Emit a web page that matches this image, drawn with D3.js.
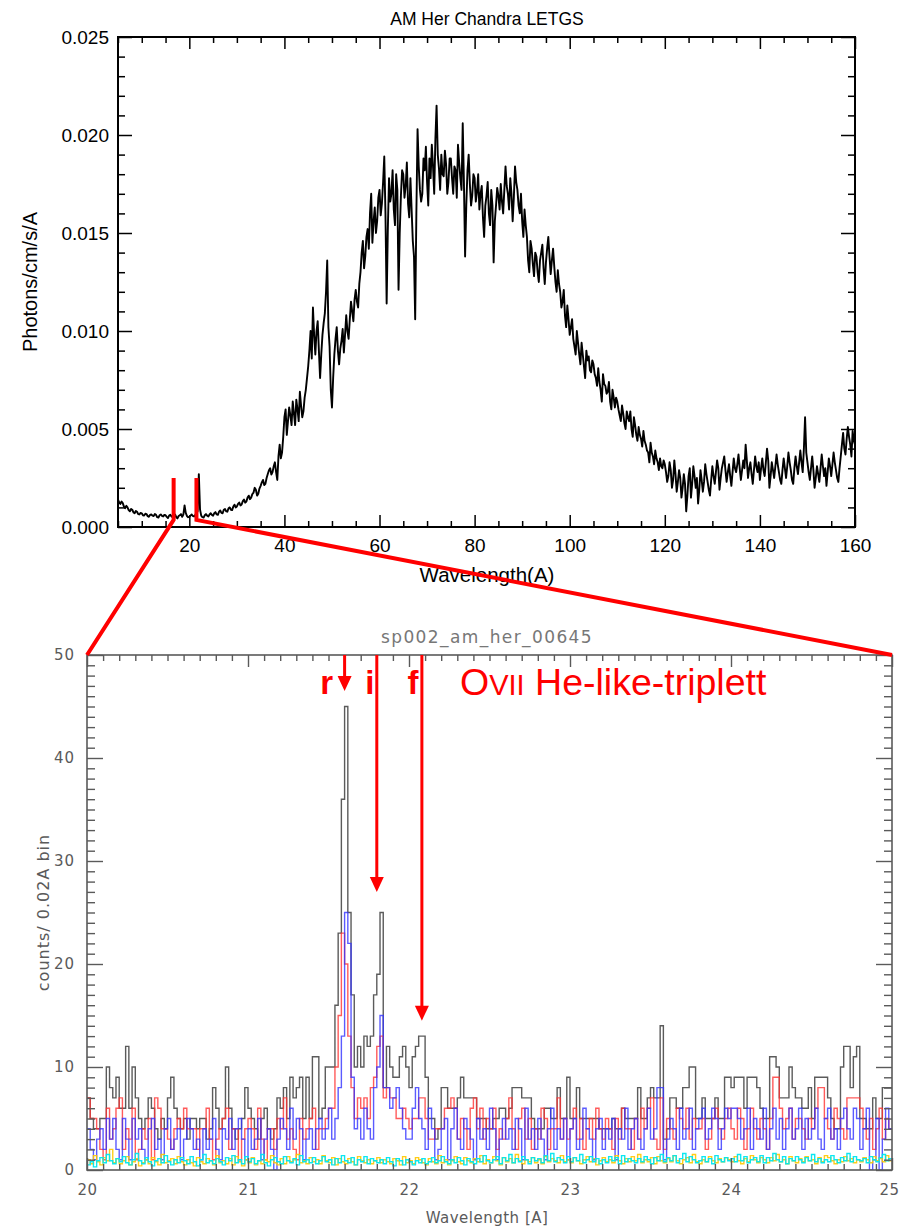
<!DOCTYPE html>
<html>
<head>
<meta charset="utf-8">
<script src="https://cdn.jsdelivr.net/npm/d3@7"></script>
<style>
  html, body { margin: 0; padding: 0; background: #fff; }
  svg { display: block; }
</style>
</head>
<body>
<svg id="chart" width="902" height="1230"></svg>
<script>
// ---------------- Overview spectrum (AM Her, Chandra LETGS) ----------------
// Wavelength grid: 5 Å to 160 Å in 0.25 Å steps.
const overviewStart = 5;
const overviewStep = 0.25;
// Flux in units of 1e-5 photons/cm/s/A
const overviewFlux = [
  140,126,118,130,122,104,96,108,100,86,80,92,88,74,70,82,78,66,64,72,
  70,60,58,68,66,55,52,62,64,58,56,66,62,50,48,60,64,57,54,62,
  60,52,46,58,62,54,50,60,64,50,44,56,60,66,52,64,110,72,56,50,
  52,58,64,56,54,62,72,80,270,90,58,50,48,60,66,58,54,64,70,62,
  58,70,76,64,62,78,84,72,70,88,92,80,78,96,100,88,86,104,114,100,
  105,118,125,110,115,132,140,124,130,150,160,142,150,168,175,200,190,160,170,196,
  210,228,240,214,220,250,270,290,300,268,280,310,330,280,240,360,420,350,380,460,
  560,600,470,540,610,570,520,640,580,520,650,600,540,690,620,560,590,660,700,760,
  820,900,1000,860,1120,980,880,1000,1050,900,760,880,980,1040,1090,1200,1360,1020,920,700,
  610,760,880,960,1020,900,830,910,950,1010,890,980,1080,1000,960,1060,1150,1100,1050,1160,
  1210,1150,1120,1240,1300,1400,1460,1320,1380,1480,1520,1420,1600,1700,1450,1560,1630,1500,1560,1680,
  1720,1590,1650,1760,1890,1600,1140,1520,1780,1660,1700,1820,1620,1540,1800,1720,1210,1500,1690,1820,
  1800,1680,1740,1860,1650,1580,1780,1620,1460,1380,1060,1600,2030,1840,1720,1660,1700,1880,1820,1940,
  1760,1640,1880,1780,1950,1840,1700,1980,2150,1900,1830,1720,1900,1800,1790,1920,1850,1700,1760,1880,
  1880,1780,1700,1840,1820,1680,1950,1860,1780,1720,2060,1760,1380,1640,1820,1900,1750,1640,1690,1800,
  1780,1660,1710,1800,1620,1700,1740,1580,1480,1640,1690,1760,1600,1540,1720,1640,1350,1560,1640,1730,
  1690,1620,1750,1660,1600,1720,1840,1740,1700,1620,1780,1700,1560,1680,1840,1760,1720,1640,1600,1700,
  1560,1480,1620,1540,1480,1360,1300,1460,1420,1340,1280,1400,1380,1300,1250,1360,1400,1440,1320,1240,
  1350,1420,1480,1380,1290,1360,1420,1330,1250,1200,1310,1240,1200,1120,1150,1210,1080,1020,1130,1060,
  980,1020,1060,960,920,880,1000,940,880,830,940,880,820,760,900,850,870,800,790,850,
  830,780,760,720,810,740,700,640,780,730,720,680,690,740,640,600,700,660,610,660,
  640,600,570,540,620,580,530,500,590,560,540,590,500,460,560,520,470,440,510,470,
  450,410,490,440,420,390,380,330,430,380,360,320,390,350,330,290,350,310,300,340,
  320,280,230,260,330,290,200,240,340,270,180,230,290,250,150,200,270,220,80,160,
  260,300,150,220,310,260,200,250,120,190,290,240,180,230,320,270,230,190,160,240,
  310,260,220,280,340,300,190,250,300,330,360,290,230,280,320,260,210,280,350,300,
  280,320,370,300,240,290,340,300,420,340,250,300,330,270,220,290,360,310,280,330,
  240,300,350,290,260,330,400,340,200,260,330,290,250,310,370,320,280,240,220,290,
  350,300,250,310,380,330,290,240,220,300,360,310,270,330,390,330,280,400,560,380,
  330,280,240,300,360,290,200,250,310,270,230,300,370,310,260,300,210,280,350,310,
  260,320,380,330,290,250,230,300,360,420,480,400,370,450,510,460,420,360,490,440,
  420
];
const FLUX_UNIT = 1e-5;
const overviewXTicks = [20, 40, 60, 80, 100, 120, 140, 160];
const overviewYTicks = [0, 0.005, 0.010, 0.015, 0.020, 0.025];
// Zoom bracket around the O VII region (wavelength, flux)
const bracketWave = [16.7, 21.5];
const bracketFlux = [0.00036, 0.0025];

// ---------------- Detail spectrum 20–25 Å, 0.02 Å bins ----------------
const binStart = 20;
const binWidth = 0.02;
const countsTotal = [
  7,5,4,4,5,5,10,8,7,9,
  6,6,12,6,10,7,5,4,5,7,
  6,4,3,5,4,7,9,6,5,4,
  5,3,5,5,4,5,5,3,4,8,
  6,4,5,10,6,4,3,4,5,8,
  6,5,4,3,5,6,4,3,4,7,
  6,8,5,9,7,8,9,5,9,5,
  11,11,5,6,10,10,10,16,23,36,
  45,25,17,10,12,10,13,12,13,17,
  19,25,8,12,10,9,9,11,12,10,
  8,11,12,13,13,9,5,5,3,4,
  8,8,6,6,6,7,9,7,7,7,
  7,5,5,5,4,4,5,5,6,6,
  5,6,8,8,8,7,7,7,5,4,
  4,4,6,6,5,5,8,5,5,9,
  5,5,8,5,5,5,5,5,5,4,
  4,4,4,5,4,4,6,5,5,5,
  5,8,5,5,7,8,7,7,14,3,
  4,7,7,6,6,8,8,10,10,5,
  5,7,5,5,5,7,5,5,9,9,
  8,9,9,9,6,9,9,9,8,6,
  5,5,11,11,10,7,7,7,10,8,
  7,7,6,6,8,5,9,9,9,9,
  7,5,4,4,10,12,12,8,11,12,
  5,5,4,4,7,5,5,8,8,8
];
const countsPlus = [
  7,5,5,4,2,1,6,3,4,6,
  7,2,4,3,6,1,2,4,3,5,
  1,7,6,4,4,3,2,4,5,4,
  6,4,4,4,2,4,4,6,3,1,
  3,4,5,6,2,4,4,1,3,4,
  5,4,2,6,3,1,4,4,2,5,
  4,7,3,4,2,1,5,3,4,5,
  6,2,4,4,5,6,6,10,15,23,
  20,13,8,5,7,6,7,5,8,9,
  12,13,7,8,7,7,5,5,6,5,
  4,5,5,7,7,5,3,3,4,4,
  4,6,6,7,6,3,5,4,2,6,
  7,4,6,3,5,4,6,2,4,3,
  5,7,4,2,5,6,3,5,2,4,
  3,6,5,2,4,4,7,3,5,3,
  4,6,3,5,2,4,5,3,6,4,
  3,5,4,2,5,3,6,4,4,2,
  5,3,6,4,6,7,3,2,7,2,
  5,4,3,6,5,4,6,3,5,4,
  4,5,2,3,5,6,4,3,5,6,
  4,3,6,5,2,4,6,4,3,5,
  4,2,5,9,9,6,4,5,6,3,
  5,5,4,3,5,4,6,8,8,5,
  4,3,6,5,4,3,7,7,7,7,
  6,4,3,5,2,4,6,3,5,4
];
const countsMinus = [
  4,2,1,3,4,2,5,3,5,2,
  1,5,3,1,5,3,4,2,1,4,
  5,2,3,1,4,5,2,3,4,1,
  3,5,4,2,3,1,4,2,3,5,
  2,1,4,3,5,2,4,5,3,1,
  4,2,3,5,1,3,4,2,0,3,
  5,4,2,6,3,5,4,1,3,4,
  2,4,5,3,4,6,3,5,8,13,
  25,22,9,4,5,3,6,4,3,8,
  10,15,8,8,6,7,8,6,4,3,
  3,6,8,5,4,2,6,4,1,2,
  4,5,1,4,6,3,2,5,4,3,
  1,5,3,4,2,6,4,1,3,5,
  3,4,2,5,4,1,6,3,4,2,
  5,3,1,4,6,2,4,3,5,1,
  4,5,2,3,6,4,3,1,4,5,
  2,4,3,5,1,4,3,6,2,4,
  5,3,2,4,6,3,4,8,8,1,
  3,5,4,2,6,3,4,6,2,4,
  5,6,3,4,6,5,2,4,6,5,
  6,6,5,3,4,6,2,5,4,3,
  6,2,4,6,3,5,2,4,6,3,
  4,6,2,5,3,4,6,3,2,5,
  6,3,4,2,5,6,4,3,6,5,
  2,4,6,0,1,5,0,3,6,4
];
const backgroundA = [
  1.0,.6,1.4,.8,.5,1.2,.9,2.0,.7,1.1,
  .6,.9,1.3,.5,.8,1.1,.4,.7,1.0,.6,
  1.2,.8,.5,1.5,.7,.9,1.1,.6,1.3,.8,
  .5,1.0,.7,.4,1.2,.8,.6,1.1,.9,.5,
  1.4,.7,.9,.6,1.1,.5,1.3,.8,.4,1.0,
  .7,1.2,.5,.9,.6,1.0,.8,1.4,.7,.5,
  1.1,.6,1.3,.8,1.0,1.5,.7,.9,.6,1.2,
  .8,1.0,.6,1.4,.9,.7,1.2,.5,1.1,.8,
  .6,1.1,.8,.5,1.3,.9,.7,1.0,.6,.9,
  1.2,.7,1.0,.8,.6,1.1,.9,.5,1.3,.7,
  .9,.6,1.2,1.0,.7,.5,1.1,.8,.6,1.4,
  .7,1.0,.5,.9,1.3,.8,.6,1.2,.9,.7,
  1.1,.8,1.4,.6,1.0,.7,1.3,.9,.5,1.2,
  .8,1.1,.7,1.5,.9,.6,1.0,.8,1.2,.7,
  1.0,.6,1.3,.8,1.1,.9,.7,1.4,.8,1.0,
  .7,1.2,.9,.6,1.0,1.3,.8,1.1,.5,.9,
  1.2,.8,1.0,.7,1.4,.9,.6,1.1,.8,1.3,
  .9,1.5,.7,1.0,.8,1.2,.6,1.3,.9,.7,
  1.1,.8,1.4,.9,.6,1.0,1.2,.7,1.5,.8,
  .6,1.0,.8,1.3,.9,.7,1.1,.8,1.2,1.0,
  .8,1.3,.9,.6,1.1,.8,1.4,1.0,.7,1.2,
  1.0,.7,1.2,.9,1.5,.8,1.0,.6,1.3,.9,
  .7,1.1,.8,1.3,.9,1.0,.6,1.2,.8,1.4,
  1.2,.9,.6,1.0,.8,1.3,.9,1.1,.7,1.0,
  .8,1.2,1.0,.7,1.3,.9,1.1,.8,1.4,.9
];
const backgroundB = [
  .5,.8,.3,.9,1.2,.7,1.5,.9,.6,1.1,
  .8,1.3,.7,.5,1.0,1.6,.9,.6,1.2,.8,
  .4,.9,1.1,.7,1.4,.8,.5,1.0,.7,1.2,
  .9,.6,1.3,.8,.4,1.0,1.5,.7,.9,.6,
  1.1,.8,.5,1.2,.9,1.4,.7,1.0,.6,1.3,
  .8,1.1,.6,.9,1.5,.7,.4,1.0,1.2,.8,
  .6,1.3,.9,.7,1.1,.5,1.4,.8,1.0,.7,
  1.2,.6,.9,1.3,.8,1.0,.5,1.1,.7,1.4,
  .9,.7,1.2,.5,1.0,.8,1.3,.6,1.1,.9,
  .7,1.0,.6,1.2,.8,.4,1.1,.9,.5,1.0,
  .8,.5,.9,.7,1.1,.6,.8,1.2,.7,.9,
  1.3,.8,.6,1.0,.7,1.2,.9,.5,1.1,.8,
  .6,1.1,.8,1.4,.9,.7,1.0,1.3,.6,1.2,
  .9,1.5,.7,1.1,.8,1.3,1.0,.6,1.2,.9,
  1.1,.7,1.4,.9,1.6,.8,1.2,1.0,.7,1.3,
  .8,1.2,.9,1.5,.7,1.0,1.3,.8,1.1,.6,
  1.0,.7,1.3,.9,1.2,.6,1.4,.8,1.1,.9,
  .7,1.1,.8,1.3,1.0,.6,1.2,.9,1.5,.8,
  1.2,.9,1.4,.7,1.1,1.6,.8,1.3,1.0,.7,
  .9,1.3,.8,1.1,.6,1.4,1.0,.8,1.2,.9,
  1.1,.8,1.5,.9,1.3,.7,1.0,1.2,.8,1.4,
  .7,1.2,.9,1.6,1.0,.8,1.3,.6,1.1,.9,
  1.3,1.0,.7,1.2,.9,1.5,.8,1.1,.7,1.0,
  .8,1.4,1.0,.7,1.2,.9,1.6,.8,1.3,1.0,
  .9,1.1,.7,1.3,1.0,.8,1.2,1.5,.9,1.1
];
const detailXTicks = [20, 21, 22, 23, 24, 25];
const detailYTicks = [0, 10, 20, 30, 40, 50];
// O VII triplet: resonance, intercombination, forbidden
const tripletLabels = ["r", "i", "f"];
const tripletWave = [21.60, 21.80, 22.08];
const tripletTip = [46.5, 27, 14.5];

// ============================================================
const svg = d3.select("#chart");
const RED = "#ff0000";

function frameTicks(g, scale, values, orient, pos, len, color, width) {
  const make = { bottom: d3.axisBottom, top: d3.axisTop, left: d3.axisLeft, right: d3.axisRight }[orient];
  const ax = make(scale).tickValues(values).tickSize(-len).tickSizeOuter(0).tickFormat("");
  const horiz = orient === "bottom" || orient === "top";
  const gg = g.append("g")
    .attr("transform", horiz ? `translate(0,${pos})` : `translate(${pos},0)`)
    .call(ax);
  gg.select(".domain").remove();
  gg.selectAll("line").attr("stroke", color).attr("stroke-width", width);
  return gg;
}
function tickLabels(g, scale, values, orient, pos, pad, fmt, color, font, size, spacing) {
  const make = orient === "bottom" ? d3.axisBottom : d3.axisLeft;
  const ax = make(scale).tickValues(values).tickSize(0).tickPadding(pad).tickFormat(fmt);
  const gg = g.append("g")
    .attr("transform", orient === "bottom" ? `translate(0,${pos})` : `translate(${pos},0)`)
    .call(ax);
  gg.select(".domain").remove();
  gg.selectAll("line").remove();
  gg.selectAll("text").attr("fill", color).style("font-family", font).style("font-size", size + "px")
    .style("letter-spacing", (spacing || 0) + "px");
  return gg;
}

// ---------------- Overview panel ----------------
const OV = { left: 118, right: 855, top: 37, bottom: 527 };
const xOv = d3.scaleLinear().domain([5, 160]).range([OV.left, OV.right]);
const yOv = d3.scaleLinear().domain([0, 0.025]).range([OV.bottom, OV.top]);
const FONT_OV = "'Liberation Sans', Arial, sans-serif";
const gOv = svg.append("g");

const ovPoints = overviewFlux.map((v, i) => [overviewStart + i * overviewStep, v * FLUX_UNIT]);
gOv.append("path")
  .datum(ovPoints)
  .attr("fill", "none")
  .attr("stroke", "#000")
  .attr("stroke-width", 1.9)
  .attr("stroke-linejoin", "round")
  .attr("d", d3.line().x(d => xOv(d[0])).y(d => yOv(d[1])));

const ovXMinor = d3.range(5, 161, 5).filter(v => v % 20 !== 0);
const ovYMinor = d3.range(0, 0.0251, 0.001).filter(v => Math.abs(v / 0.005 - Math.round(v / 0.005)) > 1e-6);
frameTicks(gOv, xOv, overviewXTicks, "bottom", OV.bottom, 12, "#000", 1.5);
frameTicks(gOv, xOv, ovXMinor, "bottom", OV.bottom, 6, "#000", 1.5);
frameTicks(gOv, xOv, overviewXTicks, "top", OV.top, 12, "#000", 1.5);
frameTicks(gOv, xOv, ovXMinor, "top", OV.top, 6, "#000", 1.5);
frameTicks(gOv, yOv, overviewYTicks, "left", OV.left, 14, "#000", 1.5);
frameTicks(gOv, yOv, ovYMinor, "left", OV.left, 7, "#000", 1.5);
frameTicks(gOv, yOv, overviewYTicks, "right", OV.right, 14, "#000", 1.5);
frameTicks(gOv, yOv, ovYMinor, "right", OV.right, 7, "#000", 1.5);
gOv.append("rect")
  .attr("x", OV.left).attr("y", OV.top)
  .attr("width", OV.right - OV.left).attr("height", OV.bottom - OV.top)
  .attr("fill", "none").attr("stroke", "#000").attr("stroke-width", 2);

tickLabels(gOv, xOv, overviewXTicks, "bottom", OV.bottom, 12, d3.format("d"), "#000", FONT_OV, 19);
tickLabels(gOv, yOv, overviewYTicks, "left", OV.left, 9, d3.format(".3f"), "#000", FONT_OV, 19);

gOv.append("text").attr("x", 487).attr("y", 25)
  .attr("text-anchor", "middle")
  .style("font-family", FONT_OV)
  .style("font-size", "17.5px")
  .text("AM Her Chandra LETGS");
gOv.append("text").attr("x", 487).attr("y", 582)
  .attr("text-anchor", "middle").style("font-family", FONT_OV).style("font-size", "20.5px")
  .text("Wavelength(A)");
gOv.append("text")
  .attr("transform", `translate(37,${(OV.top + OV.bottom) / 2}) rotate(-90)`)
  .attr("text-anchor", "middle").style("font-family", FONT_OV).style("font-size", "20px")
  .text("Photons/cm/s/A");

// ---------------- Detail panel ----------------
const DT = { left: 87, right: 892, top: 655, bottom: 1170 };
const xDt = d3.scaleLinear().domain([20, 25]).range([DT.left, DT.right]);
const yDt = d3.scaleLinear().domain([0, 50]).range([DT.bottom, DT.top]);
const FONT_DT = "'DejaVu Sans', sans-serif";
const GREY = "#5a5a5a";
const gDt = svg.append("g");

const defs = svg.append("defs");
defs.append("clipPath").attr("id", "dtClip").append("rect")
  .attr("x", DT.left).attr("y", DT.top).attr("width", DT.right - DT.left).attr("height", DT.bottom - DT.top);

const stepLine = d3.line().curve(d3.curveStepAfter).x(d => xDt(d[0])).y(d => yDt(d[1]));
function histPoints(arr) {
  const pts = arr.map((v, k) => [binStart + k * binWidth, v]);
  pts.push([binStart + arr.length * binWidth, arr[arr.length - 1]]);
  return pts;
}
const series = [
  { data: countsTotal, color: "rgba(50,50,50,0.8)" },
  { data: countsPlus, color: "rgba(255,50,50,0.8)" },
  { data: countsMinus, color: "rgba(50,50,255,0.8)" },
  { data: backgroundA, color: "rgba(255,200,0,0.9)" },
  { data: backgroundB, color: "rgba(0,230,240,0.95)" }
];
const gLines = gDt.append("g").attr("clip-path", "url(#dtClip)");
series.forEach(s => {
  gLines.append("path")
    .datum(histPoints(s.data))
    .attr("fill", "none")
    .attr("stroke", s.color)
    .attr("stroke-width", 1.4)
    .attr("d", stepLine);
});

const dtXMinor = d3.range(20, 25.001, 0.1).filter(v => Math.abs(v - Math.round(v)) > 1e-6);
const dtYMinor = d3.range(0, 51, 1).filter(v => v % 10 !== 0);
frameTicks(gDt, xDt, detailXTicks, "bottom", DT.bottom, 12, GREY, 1.4);
frameTicks(gDt, xDt, dtXMinor, "bottom", DT.bottom, 6, GREY, 1.4);
frameTicks(gDt, xDt, detailXTicks, "top", DT.top, 12, GREY, 1.4);
frameTicks(gDt, xDt, dtXMinor, "top", DT.top, 6, GREY, 1.4);
frameTicks(gDt, yDt, detailYTicks, "left", DT.left, 16, GREY, 1.4);
frameTicks(gDt, yDt, dtYMinor, "left", DT.left, 8, GREY, 1.4);
frameTicks(gDt, yDt, detailYTicks, "right", DT.right, 16, GREY, 1.4);
frameTicks(gDt, yDt, dtYMinor, "right", DT.right, 8, GREY, 1.4);
gDt.append("rect")
  .attr("x", DT.left).attr("y", DT.top)
  .attr("width", DT.right - DT.left).attr("height", DT.bottom - DT.top)
  .attr("fill", "none").attr("stroke", GREY).attr("stroke-width", 1.6);

const xLab = tickLabels(gDt, xDt, detailXTicks, "bottom", DT.bottom, 14, d3.format("d"), GREY, FONT_DT, 15, 0.5);
// keep the last label inside the page edge
xLab.selectAll(".tick").filter(d => d === 25).select("text").attr("dx", -3);
tickLabels(gDt, yDt, detailYTicks, "left", DT.left, 12, d3.format("d"), GREY, FONT_DT, 15, 1);

gDt.append("text").attr("x", 487).attr("y", 643)
  .attr("text-anchor", "middle").attr("fill", "#777").style("font-family", FONT_DT)
  .style("font-size", "17px").style("letter-spacing", "1.4px")
  .text("sp002_am_her_00645");
gDt.append("text").attr("x", 487).attr("y", 1223)
  .attr("text-anchor", "middle").attr("fill", GREY).style("font-family", FONT_DT)
  .style("font-size", "15px").style("letter-spacing", "0.5px")
  .text("Wavelength [A]");
gDt.append("text")
  .attr("transform", `translate(49,${(DT.top + DT.bottom) / 2}) rotate(-90)`)
  .attr("text-anchor", "middle").attr("fill", GREY).style("font-family", FONT_DT)
  .style("font-size", "16px").style("letter-spacing", "1px")
  .text("counts/ 0.02A bin");

// ---------------- Annotations ----------------
const gAnn = svg.append("g");
// bracket on the overview + connectors to the detail frame corners
const bx0 = xOv(bracketWave[0]), bx1 = xOv(bracketWave[1]);
const byLo = yOv(bracketFlux[0]), byHi = yOv(bracketFlux[1]);
gAnn.append("path")
  .attr("d", `M${bx0},${byHi}L${bx0},${byLo}L${xDt(20)},${yDt(50)}`)
  .attr("fill", "none").attr("stroke", RED).attr("stroke-width", 4).attr("stroke-linejoin", "miter");
gAnn.append("path")
  .attr("d", `M${bx1},${byHi}L${bx1},${byLo}L${xDt(25)},${yDt(50)}`)
  .attr("fill", "none").attr("stroke", RED).attr("stroke-width", 4).attr("stroke-linejoin", "miter");

// triplet arrows
tripletWave.forEach((w, i) => {
  const x = xDt(w), tip = yDt(tripletTip[i]);
  gAnn.append("line")
    .attr("x1", x).attr("x2", x).attr("y1", DT.top).attr("y2", tip - 12)
    .attr("stroke", RED).attr("stroke-width", 3);
  gAnn.append("path")
    .attr("d", `M${x - 7},${tip - 15}L${x + 7},${tip - 15}L${x},${tip}Z`)
    .attr("fill", RED);
});
const labelOffsets = [-18, -7, -9];
tripletLabels.forEach((t, i) => {
  gAnn.append("text")
    .attr("x", xDt(tripletWave[i]) + labelOffsets[i])
    .attr("y", 694)
    .attr("text-anchor", "middle")
    .attr("fill", RED)
    .style("font-family", "'Liberation Sans', Arial, sans-serif")
    .style("font-weight", "bold")
    .style("font-size", "33px")
    .text(t);
});
const ovii = gAnn.append("text")
  .attr("x", 460).attr("y", 695)
  .attr("fill", RED)
  .style("font-family", "'Liberation Sans', Arial, sans-serif")
  .style("font-size", "37.5px");
ovii.append("tspan").text("O");
ovii.append("tspan").style("font-size", "29px").text("VII");
ovii.append("tspan").text(" He-like-triplett");
</script>
</body>
</html>
